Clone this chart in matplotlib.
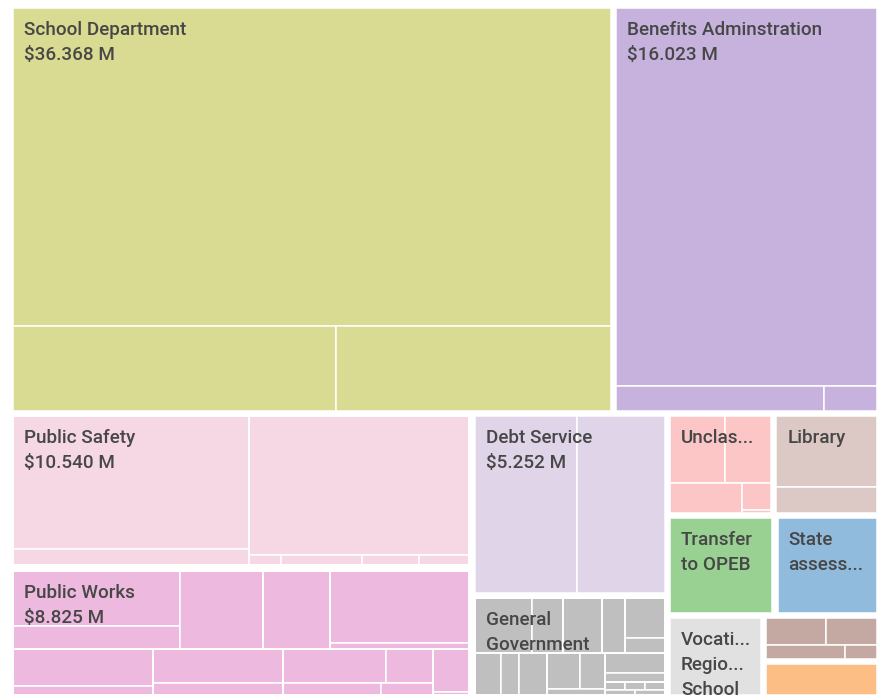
import matplotlib
matplotlib.use("Agg")
import matplotlib.pyplot as plt
from matplotlib.patches import Rectangle

# budget by department, $M (labels as they show in the cells)
dept_labels = ["School Department", "Benefits Adminstration", "Public Safety", "Public Works",
               "Debt Service", "General\nGovernment", "Unclas...", "Library", "Transfer\nto OPEB",
               "State\nassess...", "Vocati...\nRegio...\nSchool", "", ""]
dept_values = [36.368, 16.023, 10.540, 8.825, 5.252, 2.944, 1.605, 1.600, 1.590, 1.545,
               1.160, 0.790, 0.615]
dept_colors = ["#dadb92", "#c7b2de", "#f6d7e4", "#edb9de", "#e0d4e8", "#bfbfbf", "#fcc6c6",
               "#dcc8c4", "#98d192", "#91bbdd", "#e1e1e1", "#c4a8a2", "#fdbe86"]

# line items inside each department (estimated), nested lists = sub groups
school_parts = [28.73, 4.124, 3.514]
benefits_parts = [15.03, 0.793, 0.200]
safety_parts = [[4.850, 0.599], [4.735, 0.052, 0.130, 0.093, 0.081]]
works_parts = [[[1.426, 0.611], 1.012], [0.817, [1.565, 0.136]], [0.799, 0.200],
               [0.695, 0.232], [0.546, 0.246, 0.182, 0.096], [0.242, 0.018]]
debt_parts = [2.836, 2.416]
general_parts = [[0.505, 0.266], [0.338, [0.204, [0.255, 0.090]]],
                 [[0.182, 0.119], 0.186],
                 [[0.192, 0.143, 0.058], [[0.192, 0.088], [0.026, 0.026, 0.025, 0.025, 0.025]]]]
unclas_parts = [0.607, 0.506, 0.350, 0.126, 0.015]
library_parts = [1.168, 0.432]
other_parts = [0.277, 0.234, 0.199, 0.080]

dept_parts = [school_parts, benefits_parts, safety_parts, works_parts, debt_parts,
              general_parts, unclas_parts, library_parts, None, None, None, other_parts, None]

RATIO = 1.45


def node_value(n):
    if isinstance(n, list):
        return sum(node_value(c) for c in n)
    return n


def squarify(values, x0, y0, x1, y1):
    # squarified layout done in a unit square, then stretched into the rect
    total = sum(values)
    vals = [v / total for v in values]
    ux0, uy0, ux1, uy1 = 0.0, 0.0, 1.0, 1.0
    rest = 1.0
    out = []
    i0 = 0
    n = len(vals)
    while i0 < n:
        dx, dy = ux1 - ux0, uy1 - uy0
        s = vals[i0]
        vmin = vmax = s
        alpha = max(dy / dx, dx / dy) / (rest * RATIO)
        beta = s * s * alpha
        best = max(vmax / beta, beta / vmin)
        i1 = i0 + 1
        while i1 < n:
            v = vals[i1]
            s2 = s + v
            mn, mx = min(vmin, v), max(vmax, v)
            beta = s2 * s2 * alpha
            r = max(mx / beta, beta / mn)
            if r > best:
                break
            s, vmin, vmax, best = s2, mn, mx, r
            i1 += 1
        row = vals[i0:i1]
        s_frac = 1.0 if i1 >= n else s / rest
        if dx <= dy:
            h = dy * s_frac
            cx = ux0
            for v in row:
                w = dx * v / s
                out.append((cx, uy0, cx + w, uy0 + h))
                cx += w
            uy0 += h
        else:
            w = dx * s_frac
            cy = uy0
            for v in row:
                h = dy * v / s
                out.append((ux0, cy, ux0 + w, cy + h))
                cy += h
            ux0 += w
        rest -= s
        i0 = i1
    sx, sy = x1 - x0, y1 - y0
    return [(x0 + a * sx, y0 + b * sy, x0 + c * sx, y0 + d * sy) for a, b, c, d in out]


def draw_parts(ax, parts, rect, color):
    rects = squarify([node_value(p) for p in parts], *rect)
    for p, r in zip(parts, rects):
        if isinstance(p, list):
            draw_parts(ax, p, r, color)
            ax.add_patch(Rectangle((r[0], r[1]), r[2] - r[0], r[3] - r[1], fill=False,
                                   edgecolor="white", linewidth=1.4))
        else:
            ax.add_patch(Rectangle((r[0], r[1]), r[2] - r[0], r[3] - r[1], facecolor=color,
                                   edgecolor="white", linewidth=1.1))


fig = plt.figure(figsize=(8.79, 6.98), dpi=100)
ax = fig.add_axes([0, 0, 1, 1])
ax.set_xlim(0, 879)
ax.set_ylim(698, 0)
ax.axis("off")

gap = 2.6
cells = squarify(dept_values, 10.5, 5.5, 879.5, 697.5)
for i, (x0, y0, x1, y1) in enumerate(cells):
    x0, y0, x1, y1 = x0 + gap, y0 + gap, x1 - gap, y1 - gap
    base = Rectangle((x0, y0), x1 - x0, y1 - y0, facecolor=dept_colors[i],
                     edgecolor="white", linewidth=1.1)
    ax.add_patch(base)
    if dept_parts[i] is not None:
        draw_parts(ax, dept_parts[i], (x0, y0, x1, y1), dept_colors[i])
    lines = dept_labels[i].split("\n") if dept_labels[i] else []
    if dept_values[i] >= 5:
        lines.append(f"${dept_values[i]:.3f} M")
    for k, line in enumerate(lines):
        t = ax.text(x0 + 11, y0 + 22 + 25 * k, line, ha="left", va="center",
                    fontsize=13.6, family="Roboto", fontweight="medium",
                    color="#474747", clip_on=True)
        t.set_clip_path(base)

fig.savefig("out.png", dpi=100)
